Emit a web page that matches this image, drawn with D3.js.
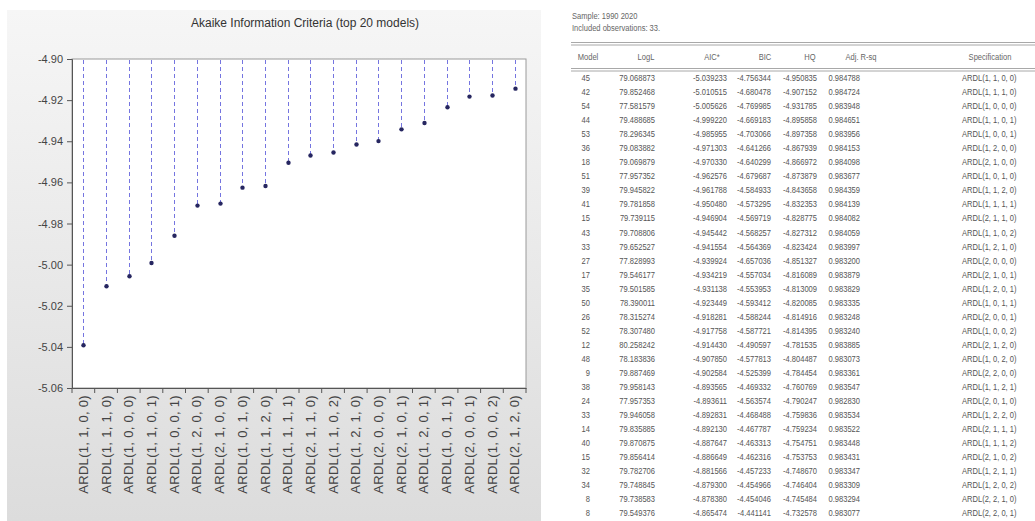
<!DOCTYPE html>
<html>
<head>
<meta charset="utf-8">
<script src="https://cdnjs.cloudflare.com/ajax/libs/d3/7.8.5/d3.min.js"></script>
<style>
  body { margin: 0; background: #fff; }
  svg { display: block; }
  text { font-family: "Liberation Sans", Arial, sans-serif; }
</style>
</head>
<body>
<svg id="chart" width="1035" height="521"></svg>
<script>
// top 20 models by AIC (chart)
var models = ["ARDL(1, 1, 0, 0)","ARDL(1, 1, 1, 0)","ARDL(1, 0, 0, 0)","ARDL(1, 1, 0, 1)","ARDL(1, 0, 0, 1)",
  "ARDL(1, 2, 0, 0)","ARDL(2, 1, 0, 0)","ARDL(1, 0, 1, 0)","ARDL(1, 1, 2, 0)","ARDL(1, 1, 1, 1)",
  "ARDL(2, 1, 1, 0)","ARDL(1, 1, 0, 2)","ARDL(1, 2, 1, 0)","ARDL(2, 0, 0, 0)","ARDL(2, 1, 0, 1)",
  "ARDL(1, 2, 0, 1)","ARDL(1, 0, 1, 1)","ARDL(2, 0, 0, 1)","ARDL(1, 0, 0, 2)","ARDL(2, 1, 2, 0)"];
var aicValues = [-5.039233,-5.010515,-5.005626,-4.999220,-4.985955,-4.971303,-4.970330,-4.962576,-4.961788,-4.950480,
  -4.946904,-4.945442,-4.941554,-4.939924,-4.934219,-4.931138,-4.923449,-4.918281,-4.917758,-4.914430];
var yTicks = [-4.90,-4.92,-4.94,-4.96,-4.98,-5.00,-5.02,-5.04,-5.06];

// model selection table (right side)
var tblHeader = ["Model","LogL","AIC*","BIC","HQ","Adj. R-sq","Specification"];
var tblModel = ["45","42","54","44","53","36","18","51","39","41","15","43","33","27","17","35","50","26","52","12",
  "48","9","38","24","33","14","40","15","32","34","8","8"];
var tblLogL = ["79.068873","79.852468","77.581579","79.488685","78.296345","79.083882","79.069879","77.957352","79.945822","79.781858",
  "79.739115","79.708806","79.652527","77.828993","79.546177","79.501585","78.390011","78.315274","78.307480","80.258242",
  "78.183836","79.887469","79.958143","77.957353","79.946058","79.835885","79.870875","79.856414","79.782706","79.748845","79.738583","79.549376"];
var tblAIC = ["-5.039233","-5.010515","-5.005626","-4.999220","-4.985955","-4.971303","-4.970330","-4.962576","-4.961788","-4.950480",
  "-4.946904","-4.945442","-4.941554","-4.939924","-4.934219","-4.931138","-4.923449","-4.918281","-4.917758","-4.914430",
  "-4.907850","-4.902584","-4.893565","-4.893611","-4.892831","-4.892130","-4.887647","-4.886649","-4.881566","-4.879300","-4.878380","-4.865474"];
var tblBIC = ["-4.756344","-4.680478","-4.769985","-4.669183","-4.703066","-4.641266","-4.640299","-4.679687","-4.584933","-4.573295",
  "-4.569719","-4.568257","-4.564369","-4.657036","-4.557034","-4.553953","-4.593412","-4.588244","-4.587721","-4.490597",
  "-4.577813","-4.525399","-4.469332","-4.563574","-4.468488","-4.467787","-4.463313","-4.462316","-4.457233","-4.454966","-4.454046","-4.441141"];
var tblHQ = ["-4.950835","-4.907152","-4.931785","-4.895858","-4.897358","-4.867939","-4.866972","-4.873879","-4.843658","-4.832353",
  "-4.828775","-4.827312","-4.823424","-4.851327","-4.816089","-4.813009","-4.820085","-4.814916","-4.814395","-4.781535",
  "-4.804487","-4.784454","-4.760769","-4.790247","-4.759836","-4.759234","-4.754751","-4.753753","-4.748670","-4.746404","-4.745484","-4.732578"];
var tblAdjR = ["0.984788","0.984724","0.983948","0.984651","0.983956","0.984153","0.984098","0.983677","0.984359","0.984139",
  "0.984082","0.984059","0.983997","0.983200","0.983879","0.983829","0.983335","0.983248","0.983240","0.983885",
  "0.983073","0.983361","0.983547","0.982830","0.983534","0.983522","0.983448","0.983431","0.983347","0.983309","0.983294","0.983077"];
var tblSpec = ["ARDL(1, 1, 0, 0)","ARDL(1, 1, 1, 0)","ARDL(1, 0, 0, 0)","ARDL(1, 1, 0, 1)","ARDL(1, 0, 0, 1)",
  "ARDL(1, 2, 0, 0)","ARDL(2, 1, 0, 0)","ARDL(1, 0, 1, 0)","ARDL(1, 1, 2, 0)","ARDL(1, 1, 1, 1)",
  "ARDL(2, 1, 1, 0)","ARDL(1, 1, 0, 2)","ARDL(1, 2, 1, 0)","ARDL(2, 0, 0, 0)","ARDL(2, 1, 0, 1)",
  "ARDL(1, 2, 0, 1)","ARDL(1, 0, 1, 1)","ARDL(2, 0, 0, 1)","ARDL(1, 0, 0, 2)","ARDL(2, 1, 2, 0)",
  "ARDL(1, 0, 2, 0)","ARDL(2, 2, 0, 0)","ARDL(1, 1, 2, 1)","ARDL(2, 0, 1, 0)","ARDL(1, 2, 2, 0)",
  "ARDL(2, 1, 1, 1)","ARDL(1, 1, 1, 2)","ARDL(2, 1, 0, 2)","ARDL(1, 2, 1, 1)","ARDL(1, 2, 0, 2)",
  "ARDL(2, 2, 1, 0)","ARDL(2, 2, 0, 1)"];

var svg = d3.select("#chart");

// ---- left panel (EViews graph window) ----
var defs = svg.append("defs");
var grad = defs.append("linearGradient").attr("id","panelGrad")
	.attr("x1",0).attr("y1",0).attr("x2",0).attr("y2",1);
grad.append("stop").attr("offset","0%").attr("stop-color","#f6f6f6");
grad.append("stop").attr("offset","100%").attr("stop-color","#dcdcdc");

svg.append("rect")
	.attr("x",7).attr("y",10)
	.attr("width",534).attr("height",511)
	.style("fill","url(#panelGrad)");

// NB: "top" is taken by window.top, so the plot box gets its own names
var pLeft = 72, pRight = 526, pTop = 59, pBottom = 388;

var x = d3.scaleBand().domain(models).range([pLeft,pRight]).padding(0);
var y = d3.scaleLinear().domain([-5.06,-4.90]).range([pBottom,pTop]);

// snap the stem x to a pixel centre so every dashed line renders the same
function cx(d){ return Math.round(x(d)+x.bandwidth()/2)+0.5; }

svg.append("rect")
	.attr("x",pLeft).attr("y",pTop)
	.attr("width",pRight-pLeft).attr("height",pBottom-pTop)
	.style("fill","#fff")
	.style("stroke","#9a9a9a").style("stroke-width",1);

svg.append("text")
	.attr("x",(pLeft+pRight)/2+6).attr("y",27)
	.attr("text-anchor","middle")
	.style("font-size","12px").style("fill","#333")
	.text("Akaike Information Criteria (top 20 models)");

// y axis (plain hyphen like EViews)
var fmt = d3.format(".2f");
var yAxis = svg.append("g")
	.attr("transform","translate("+pLeft+",0)")
	.call(d3.axisLeft(y).tickValues(yTicks).tickSize(5).tickPadding(4)
		.tickFormat(function(d){ return fmt(d).replace("\u2212","-"); }));
yAxis.select(".domain").style("stroke","#555");
yAxis.selectAll(".tick line").style("stroke","#555");
yAxis.selectAll("text").style("font-size","11px").style("fill","#444")
	.style("font-family","'Liberation Sans', Arial, sans-serif");

// x axis: labels at band centres, ticks at band edges
var xAxis = svg.append("g")
	.attr("transform","translate(0,"+pBottom+")")
	.call(d3.axisBottom(x).tickSize(0).tickPadding(0));
xAxis.select(".domain").style("stroke","#555");
xAxis.selectAll("text")
	.attr("transform","rotate(-90)")
	.attr("x",-7).attr("y",0).attr("dy","0.35em")
	.style("text-anchor","end")
	.style("font-size","13px").style("fill","#444")
	.style("letter-spacing","0.3px")
	.style("font-family","'Liberation Sans', Arial, sans-serif");

var edges = models.map(function(d){ return x(d); }).concat([pRight]);
svg.append("g").selectAll("line")
	.data(edges)
	.enter().append("line")
	.attr("x1",function(d){ return d; }).attr("x2",function(d){ return d; })
	.attr("y1",pBottom).attr("y2",pBottom+5)
	.style("stroke","#555");

// dashed drop lines from the top down to each value
var stems = svg.append("g");
stems.selectAll("line")
	.data(models)
	.enter().append("line")
	.attr("x1",cx).attr("x2",cx)
	.attr("y1",y(-4.90)+1)
	.attr("y2",function(d,i){ return y(aicValues[i]); })
	.style("stroke","#7575e0").style("stroke-width",1)
	.attr("stroke-dasharray","4,3");

stems.selectAll("circle")
	.data(models)
	.enter().append("circle")
	.attr("cx",cx)
	.attr("cy",function(d,i){ return y(aicValues[i]); })
	.attr("r",2.2)
	.style("fill","#262660");

// ---- right side: model selection table ----
// text is squeezed a bit horizontally, like the narrow grid font of the original
var squeeze = 0.84;
function tblText(g, tx, ty, anchor, str, size, color){
	g.append("text")
		.attr("transform","translate("+tx+","+ty+") scale("+squeeze+",1)")
		.attr("dy","0.35em")
		.attr("text-anchor",anchor)
		.style("font-size",size).style("fill",color)
		.text(str);
}

var info = svg.append("g");
tblText(info,572,16,"start","Sample: 1990 2020","9px","#666");
tblText(info,572,28,"start","Included observations: 33.","9px","#666");

[42.5,45,68.5,71].forEach(function(yy){
	svg.append("line")
		.attr("x1",571).attr("x2",1035)
		.attr("y1",yy).attr("y2",yy)
		.style("stroke","#a8a8a8").style("stroke-width",1);
});

// column anchors: right edge for numbers, left edge for specification
var colX = [590,655,727,771,817,860,962];
var colAnchor = ["end","end","end","end","end","end","start"];
var headX = [588,646,712,765,810,861,990];

var head = svg.append("g");
tblHeader.forEach(function(h,i){
	tblText(head,headX[i],57,"middle",h,"9px","#666");
});

var cols = [tblModel,tblLogL,tblAIC,tblBIC,tblHQ,tblAdjR,tblSpec];
var rowY = d3.scaleLinear().domain([0,tblModel.length-1]).range([78,513]);

var body = svg.append("g");
cols.forEach(function(col,c){
	col.forEach(function(v,i){
		tblText(body,colX[c],rowY(i),colAnchor[c],v,"9px","#555");
	});
});
</script>
</body>
</html>
